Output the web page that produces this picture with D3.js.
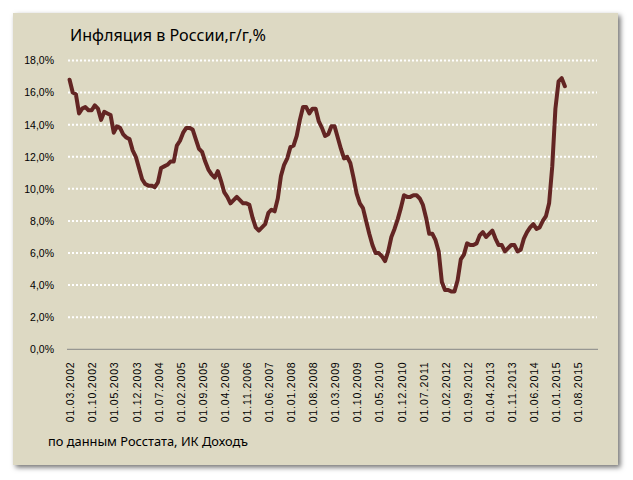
<!DOCTYPE html>
<html>
<head>
<meta charset="utf-8">
<script src="https://cdn.jsdelivr.net/npm/d3@7"></script>
<style>
  body { margin: 0; background: #fff; }
  svg { display: block; }
</style>
</head>
<body>
<svg width="633" height="480"></svg>
<script>
// inflation in Russia, y/y %, monthly from 01.03.2002 (Excel style chart)

const startMonth = "2002-03";
const nCategories = 168; // excel range runs past the last value
const inflation = [
  16.8, 16.0, 15.9, 14.7, 15.0, 15.1, 14.9, 14.9, 15.2, 15.0,             // 2002 mar-dec
  14.3, 14.8, 14.7, 14.6, 13.5, 13.9, 13.8, 13.4, 13.2, 13.1, 12.4, 12.0, // 2003
  11.3, 10.6, 10.3, 10.2, 10.2, 10.1, 10.4, 11.3, 11.4, 11.5, 11.7, 11.7, // 2004
  12.7, 13.0, 13.5, 13.8, 13.8, 13.7, 13.1, 12.5, 12.3, 11.7, 11.2, 10.9, // 2005
  10.7, 11.1, 10.5, 9.8, 9.5, 9.1, 9.3, 9.5, 9.3, 9.1, 9.1, 9.0,          // 2006
  8.2, 7.6, 7.4, 7.6, 7.8, 8.5, 8.7, 8.6, 9.4, 10.8, 11.5, 11.9,          // 2007
  12.6, 12.7, 13.3, 14.3, 15.1, 15.1, 14.7, 15.0, 15.0, 14.2, 13.8, 13.3, // 2008
  13.4, 13.9, 13.9, 13.2, 12.5, 11.9, 12.0, 11.6, 10.7, 9.7, 9.1, 8.8,    // 2009
  8.0, 7.2, 6.5, 6.0, 6.0, 5.8, 5.5, 6.1, 7.0, 7.5, 8.1, 8.8,             // 2010
  9.6, 9.5, 9.5, 9.6, 9.6, 9.4, 9.0, 8.2, 7.2, 7.2, 6.8, 6.1,             // 2011
  4.2, 3.7, 3.7, 3.6, 3.6, 4.3, 5.6, 5.9, 6.6, 6.5, 6.5, 6.6,             // 2012
  7.1, 7.3, 7.0, 7.2, 7.4, 6.9, 6.5, 6.5, 6.1, 6.3, 6.5, 6.5,             // 2013
  6.1, 6.2, 6.9, 7.3, 7.6, 7.8, 7.5, 7.6, 8.0, 8.3, 9.1, 11.4,            // 2014
  15.0, 16.7, 16.9, 16.4                                                  // 2015 jan-apr
];
const xTickLabels = [
  "01.03.2002", "01.10.2002", "01.05.2003", "01.12.2003", "01.07.2004", "01.02.2005",
  "01.09.2005", "01.04.2006", "01.11.2006", "01.06.2007", "01.01.2008", "01.08.2008",
  "01.03.2009", "01.10.2009", "01.05.2010", "01.12.2010", "01.07.2011", "01.02.2012",
  "01.09.2012", "01.04.2013", "01.11.2013", "01.06.2014", "01.01.2015", "01.08.2015"
];
const yTicks = [0, 2, 4, 6, 8, 10, 12, 14, 16, 18];
const title = "Инфляция в России,г/г,%";
const source = "по данным Росстата, ИК Доходъ";

const svg = d3.select("svg");

const plot = { left: 68, right: 598, top: 60.5, bottom: 349.3 };

// chart area with soft shadow
const defs = svg.append("defs");
const shadow = defs.append("filter")
    .attr("id", "shadow")
    .attr("x", "-5%").attr("y", "-5%")
    .attr("width", "110%").attr("height", "110%");
shadow.append("feDropShadow")
    .attr("dx", 2.5).attr("dy", 2.5)
    .attr("stdDeviation", 2.5)
    .attr("flood-color", "#000")
    .attr("flood-opacity", 0.55);

svg.append("rect")
    .attr("x", 13).attr("y", 13)
    .attr("width", 605).attr("height", 452)
    .attr("fill", "#ddd9c3")
    .attr("filter", "url(#shadow)");

// scales
const parseMonth = d3.utcParse("%Y-%m");
const fmtMonth = d3.utcFormat("01.%m.%Y");
const months = d3.range(nCategories).map(i => fmtMonth(d3.utcMonth.offset(parseMonth(startMonth), i)));

const x = d3.scaleBand().domain(months).range([plot.left, plot.right]).padding(0);
const y = d3.scaleLinear().domain([0, 18]).range([plot.bottom, plot.top]);

// dotted grid
svg.append("g")
    .selectAll("line")
    .data(yTicks.filter(d => d > 0))
    .join("line")
      .attr("x1", plot.left)
      .attr("x2", plot.right - 1)
      .attr("y1", d => y(d))
      .attr("y2", d => y(d))
      .attr("stroke", "#fff")
      .attr("stroke-width", 2)
      .attr("stroke-dasharray", "2,2");

// y axis labels
const yAxis = d3.axisLeft(y)
    .tickValues(yTicks)
    .tickSize(0)
    .tickPadding(14)
    .tickFormat(d => d3.format(".1f")(d).replace(".", ",") + "%");

const yG = svg.append("g")
    .attr("transform", "translate(" + plot.left + ",0)")
    .call(yAxis);
yG.select(".domain").remove();
yG.selectAll("text")
    .attr("font-family", "Liberation Sans, Arial, sans-serif")
    .attr("font-size", 10.5)
    .attr("fill", "#000");

// x axis
const xAxis = d3.axisBottom(x)
    .tickValues(xTickLabels)
    .tickSize(0);

const xG = svg.append("g")
    .attr("transform", "translate(0," + plot.bottom + ")")
    .call(xAxis);
xG.select(".domain")
    .attr("d", "M" + (plot.left - 1) + ",0H" + plot.right)
    .attr("stroke", "#868686")
    .attr("stroke-width", 1);
xG.selectAll("text")
    .attr("font-family", "Liberation Sans, Arial, sans-serif")
    .attr("font-size", 10.5)
    .attr("fill", "#000")
    .attr("text-anchor", "end")
    .attr("textLength", 60)
    .attr("lengthAdjust", "spacing")
    .attr("transform", "rotate(-90)")
    .attr("x", -13)
    .attr("y", 1)
    .attr("dy", "0.35em");

// the line
const line = d3.line()
    .x((d, i) => x(months[i]) + x.bandwidth() / 2)
    .y(d => y(d));

svg.append("path")
    .datum(inflation)
    .attr("d", line)
    .attr("fill", "none")
    .attr("stroke", "#632523")
    .attr("stroke-width", 4)
    .attr("stroke-linejoin", "round")
    .attr("stroke-linecap", "round");

// texts
svg.append("text")
    .attr("x", 70)
    .attr("y", 41)
    .attr("font-family", "Noto Sans, sans-serif")
    .attr("font-size", 16)
    .attr("textLength", 196)
    .attr("lengthAdjust", "spacingAndGlyphs")
    .attr("fill", "#000")
    .text(title);

svg.append("text")
    .attr("x", 48)
    .attr("y", 446)
    .attr("font-family", "Noto Sans, sans-serif")
    .attr("font-size", 12.5)
    .attr("textLength", 200)
    .attr("lengthAdjust", "spacingAndGlyphs")
    .attr("fill", "#000")
    .text(source);
</script>
</body>
</html>
